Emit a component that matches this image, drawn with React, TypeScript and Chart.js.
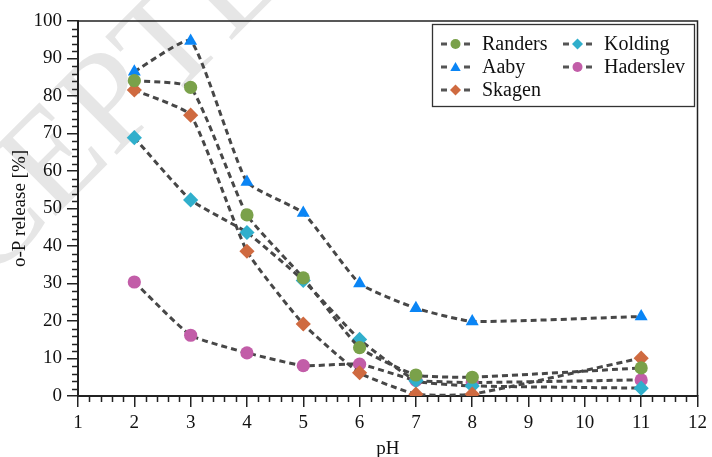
import React, { useEffect, useRef } from 'react';
import { Chart, registerables } from 'chart.js';

Chart.register(...registerables);

// ---- data ----
const pHValues = [2, 3, 4, 5, 6, 7, 8, 11];
const randers = [84.1, 82.3, 48.3, 31.5, 12.9, 5.6, 5.0, 7.5];
const aaby = [86.5, 94.7, 57.1, 48.8, 30.0, 23.4, 19.9, 21.2];
const skagen = [81.6, 74.9, 38.6, 19.2, 6.2, 0.5, 0.5, 10.1];
const kolding = [68.9, 52.3, 43.6, 30.8, 15.1, 4.1, 2.7, 2.1];
const haderslev = [30.4, 16.2, 11.5, 8.1, 8.5, 4.2, 3.6, 4.3];

const seriesNames = ['Randers', 'Aaby', 'Skagen', 'Kolding', 'Haderslev'];
const seriesValues = [randers, aaby, skagen, kolding, haderslev];
const seriesColors = ['#7aa14a', '#0a85f5', '#cf6a40', '#30afcc', '#c25da8'];
const seriesStyles = ['circle', 'triangle', 'rectRot', 'rectRot', 'circle'];
const seriesRadius = [6.6, 7.5, 7.6, 7.6, 6.6];

const xMin = 1;
const xMax = 12;
const yMin = 0;
const yMax = 100;
const xTitle = 'pH';
const yTitle = 'o-P release [%]';
const watermark = 'ACCEPTED MANUSCRIPT';

const FONT = "'Liberation Serif', 'Times New Roman', serif";
const LINE = '#474747';

function drawMarker(ctx: CanvasRenderingContext2D, style: string, x: number, y: number, r: number) {
  ctx.beginPath();
  if (style === 'circle') {
    ctx.arc(x, y, r, 0, Math.PI * 2);
  } else if (style === 'triangle') {
    for (let i = 0; i < 3; i++) {
      const a = (i * 2 * Math.PI) / 3;
      const px = x + Math.sin(a) * r;
      const py = y - Math.cos(a) * r;
      if (i === 0) ctx.moveTo(px, py);
      else ctx.lineTo(px, py);
    }
  } else {
    ctx.moveTo(x, y - r);
    ctx.lineTo(x + r, y);
    ctx.lineTo(x, y + r);
    ctx.lineTo(x - r, y);
  }
  ctx.closePath();
  ctx.fill();
}

const watermarkPlugin = {
  id: 'watermark',
  beforeDraw(chart: any) {
    const ctx = chart.ctx as CanvasRenderingContext2D;
    ctx.save();
    const fs = 140;
    ctx.font = `${fs}px ${FONT}`;
    ctx.fillStyle = '#e6e6e6';
    const before = ctx.measureText('ACCE').width;
    const wP = ctx.measureText('P').width;
    ctx.translate(108, 98);
    ctx.rotate(-Math.PI / 4);
    ctx.textBaseline = 'alphabetic';
    ctx.textAlign = 'left';
    ctx.fillText(watermark, -(before + wP / 2), fs * 0.33);
    ctx.restore();
  },
};

const framePlugin = {
  id: 'frame',
  afterDraw(chart: any) {
    const ctx = chart.ctx as CanvasRenderingContext2D;
    const { left, right, top, bottom } = chart.chartArea;
    const xs = chart.scales.x;
    const ys = chart.scales.y;
    ctx.save();
    ctx.strokeStyle = '#222';
    ctx.lineWidth = 1.5;
    ctx.beginPath();
    for (let v = xMin; v < xMax; v += 1) {
      for (let k = 1; k < 5; k++) {
        const px = Math.round(xs.getPixelForValue(v + k * 0.2)) + 0.5;
        ctx.moveTo(px, bottom);
        ctx.lineTo(px, bottom + 6);
      }
    }
    for (let v = yMin; v < yMax; v += 10) {
      for (let k = 1; k < 5; k++) {
        const py = Math.round(ys.getPixelForValue(v + k * 2)) + 0.5;
        ctx.moveTo(left - 6, py);
        ctx.lineTo(left, py);
      }
    }
    ctx.stroke();
    ctx.beginPath();
    ctx.moveTo(left, top);
    ctx.lineTo(right, top);
    ctx.lineTo(right, bottom);
    ctx.stroke();
    ctx.restore();
  },
};

const legendPlugin = {
  id: 'customLegend',
  afterDatasetsDraw(chart: any) {
    const ctx = chart.ctx as CanvasRenderingContext2D;
    ctx.save();
    const bx = 432.5, by = 24.5, bw = 262, bh = 82;
    ctx.fillStyle = '#fff';
    ctx.fillRect(bx, by, bw, bh);
    ctx.strokeStyle = '#333';
    ctx.lineWidth = 1.3;
    ctx.strokeRect(bx, by, bw, bh);
    const colX = [441, 563];
    const rowY = [44, 67, 90];
    seriesNames.forEach((name, i) => {
      const col = i < 3 ? 0 : 1;
      const row = i < 3 ? i : i - 3;
      const x0 = colX[col];
      const y = rowY[row];
      ctx.strokeStyle = '#555';
      ctx.lineWidth = 3;
      ctx.beginPath();
      ctx.moveTo(x0, y);
      ctx.lineTo(x0 + 6, y);
      ctx.moveTo(x0 + 23, y);
      ctx.lineTo(x0 + 29, y);
      ctx.stroke();
      ctx.fillStyle = seriesColors[i];
      const st = seriesStyles[i];
      const r = st === 'circle' ? 5 : st === 'triangle' ? 6 : 5.5;
      drawMarker(ctx, st, x0 + 14.5, st === 'triangle' ? y + 1 : y, r);
      ctx.fillStyle = '#111';
      ctx.font = `20px ${FONT}`;
      ctx.textBaseline = 'middle';
      ctx.textAlign = 'left';
      ctx.fillText(name, x0 + 41, y + 1);
    });
    ctx.restore();
  },
};

export default function App() {
  const ref = useRef<HTMLCanvasElement | null>(null);
  useEffect(() => {
    document.body.style.margin = '0';
    if (!ref.current) return;
    const datasets = seriesNames.map((name, i) => ({
      label: name,
      data: pHValues.map((x, j) => ({ x, y: seriesValues[i][j] })),
      borderColor: LINE,
      borderWidth: 3,
      borderDash: [6, 4],
      backgroundColor: seriesColors[i],
      pointBackgroundColor: seriesColors[i],
      pointBorderColor: seriesColors[i],
      pointBorderWidth: 0,
      pointStyle: seriesStyles[i],
      pointRadius: seriesRadius[i],
      pointHoverRadius: seriesRadius[i],
      tension: 0.15,
      fill: false,
    }));
    const chart = new Chart(ref.current, {
      type: 'line',
      data: { datasets },
      plugins: [watermarkPlugin, framePlugin, legendPlugin],
      options: {
        animation: false,
        responsive: true,
        maintainAspectRatio: false,
        layout: { padding: { top: 21, right: 10, left: 0, bottom: 0 } },
        plugins: { legend: { display: false }, tooltip: { enabled: false } },
        scales: {
          x: {
            type: 'linear',
            min: xMin,
            max: xMax,
            afterFit: (s: any) => { s.height = 61; },
            ticks: { stepSize: 1, color: '#111', font: { family: FONT, size: 19 }, padding: 5 },
            grid: { drawOnChartArea: false, drawTicks: true, tickLength: 11, color: '#222', lineWidth: 1.5 },
            border: { display: true, color: '#222', width: 2 },
            title: { display: true, text: xTitle, color: '#111', font: { family: FONT, size: 19, lineHeight: 1 }, padding: { top: 0, bottom: -2 } },
          },
          y: {
            type: 'linear',
            min: yMin,
            max: yMax,
            afterFit: (s: any) => { s.width = 78; },
            ticks: { stepSize: 10, color: '#111', font: { family: FONT, size: 19 }, padding: 5 },
            grid: { drawOnChartArea: false, drawTicks: true, tickLength: 11, color: '#222', lineWidth: 1.5 },
            border: { display: true, color: '#222', width: 2 },
            title: { display: true, text: yTitle, color: '#111', font: { family: FONT, size: 19, lineHeight: 1 }, padding: { top: 11, bottom: 0 } },
          },
        },
      },
    });
    return () => chart.destroy();
  }, []);
  return (
    <div style={{ width: 712, height: 457, position: 'relative' }}>
      <canvas ref={ref} />
    </div>
  );
}
